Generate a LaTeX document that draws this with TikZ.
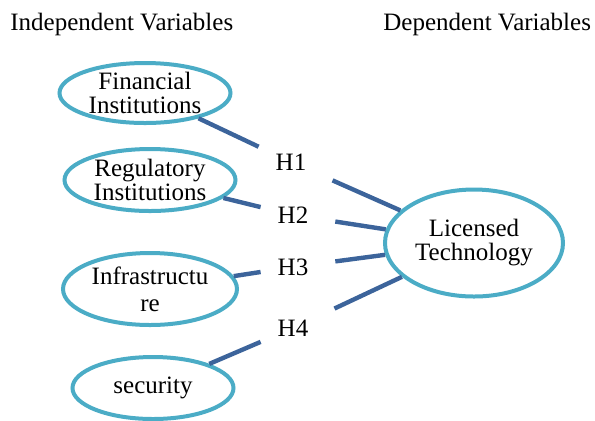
\documentclass[tikz,border=0pt]{standalone}
\usepackage{fontspec}
\setmainfont{Liberation Serif}
\usepackage{xcolor}
\usetikzlibrary{shapes.geometric}
\definecolor{ovalblue}{RGB}{75,172,198}
\definecolor{linkblue}{RGB}{60,100,155}
\tikzset{
  oval/.style={ellipse, draw=ovalblue, line width=2pt, inner sep=-5pt, align=center},
  hyp/.style={minimum width=32pt, minimum height=17pt, inner sep=0pt},
  link/.style={draw=linkblue, line width=2.2pt}
}

\begin{document}
\begin{tikzpicture}[x=0.5pt, y=-0.5pt, font=\fontsize{12.5}{12}\selectfont]
\useasboundingbox (0,0) rectangle (595,420);
\clip (0,0) rectangle (595,420);
% headings
\node[anchor=base west, inner sep=0pt] (indep) at (10,30) {Independent Variables};
\node[anchor=base west, inner sep=0pt] (dep) at (383,30) {Dependent Variables};
% independent variables
\node[oval, minimum width=85.5pt, minimum height=30pt] (fin) at (145,93) {Financial\\Institutions};
\node[oval, minimum width=85.5pt, minimum height=31pt] (reg) at (150,180) {Regulatory\\Institutions};
\node[oval, minimum width=87pt, minimum height=36pt] (infra) at (150,289) {Infrastructu\\[1.5pt]re};
\node[oval, minimum width=80.5pt, minimum height=31pt] (sec) at (153,388) {security};
% dependent variable
\node[oval, minimum width=89pt, minimum height=53.5pt] (tech) at (474,243) {Licensed\\Technology};
% hypotheses
\node[hyp] (h1) at (291,162) {H1};
\node[hyp] (h2) at (293,215) {H2};
\node[hyp] (h3) at (293,267) {H3};
\node[hyp] (h4) at (293,328) {H4};
% links
\draw[link] (fin) -- (h1);
\draw[link] (reg) -- (h2);
\draw[link] (infra) -- (h3);
\draw[link] (sec) -- (h4);
\draw[link, shorten <=5pt] (h1) -- (tech);
\draw[link, shorten <=5pt] (h2) -- (tech);
\draw[link, shorten <=5pt] (h3) -- (tech);
\draw[link, shorten <=5pt] (h4) -- (tech);
\end{tikzpicture}
\end{document}
